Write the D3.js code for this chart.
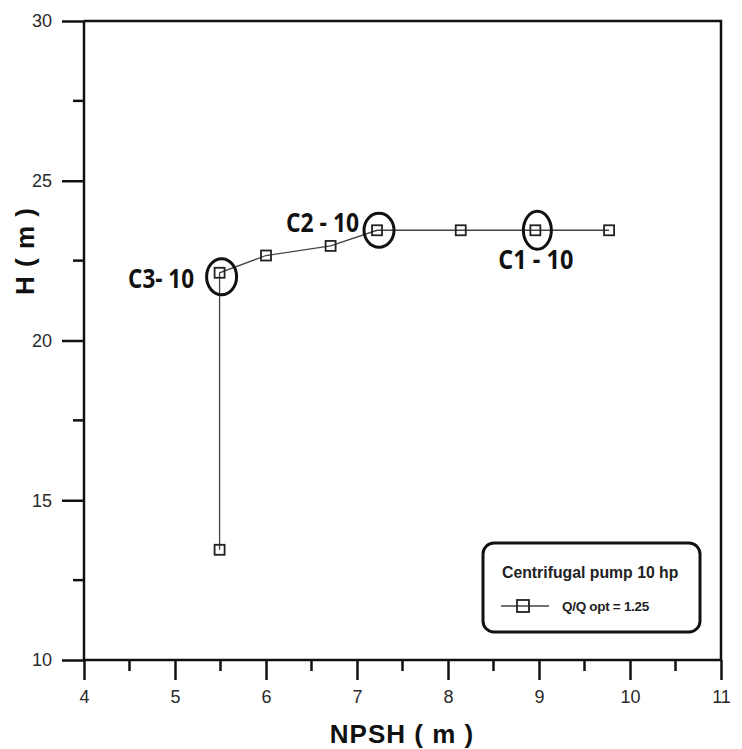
<!DOCTYPE html>
<html>
<head>
<meta charset="utf-8">
<script src="https://cdn.jsdelivr.net/npm/d3@7"></script>
<style>
  html, body { margin: 0; padding: 0; background: #fff; }
  svg { display: block; }
</style>
</head>
<body>
<svg id="chart" width="742" height="749"></svg>
<script>
// NPSH (m) vs head H (m) for the 10 hp centrifugal pump at Q/Qopt = 1.25
const npsh = [5.49, 5.49, 6.0, 6.71, 7.22, 8.14, 8.96, 9.77];
const head = [13.45, 22.12, 22.66, 22.96, 23.45, 23.45, 23.45, 23.45];

// Cavitation condition markers: label, index of the circled point
const markerLabels = ["C3- 10", "C2 - 10", "C1 - 10"];
const markerIndex = [1, 4, 6];

const xTicks = [4, 5, 6, 7, 8, 9, 10, 11];
const yTicks = [10, 15, 20, 25, 30];

const legendTitle = "Centrifugal pump 10 hp";
const seriesName = "Q/Q opt = 1.25";

const svg = d3.select("#chart");
const plotL = 84, plotR = 721, plotT = 21, plotB = 660;

const x = d3.scaleLinear().domain([4, 11]).range([plotL, plotR]);
const y = d3.scaleLinear().domain([10, 30]).range([plotB, plotT]);

const tickFont = "Liberation Sans, Arial, sans-serif";

// frame: top and right edges
svg.append("path")
  .attr("d", `M${plotL},${plotT}H${plotR}V${plotB}`)
  .attr("fill", "none").attr("stroke", "#111").attr("stroke-width", 2.5);

// bottom axis
const xAxis = svg.append("g").attr("transform", `translate(0,${plotB})`)
  .call(d3.axisBottom(x).tickValues(xTicks).tickFormat(d3.format("d"))
    .tickSize(20).tickSizeOuter(0).tickPadding(10));
// minor x ticks
svg.append("g").selectAll("line")
  .data(d3.range(4.5, 11, 1))
  .join("line")
  .attr("x1", d => x(d)).attr("x2", d => x(d))
  .attr("y1", plotB).attr("y2", plotB + 11)
  .attr("stroke", "#111").attr("stroke-width", 2.5);

// left axis
const yAxis = svg.append("g").attr("transform", `translate(${plotL},0)`)
  .call(d3.axisLeft(y).tickValues(yTicks).tickFormat(d3.format("d"))
    .tickSize(22).tickSizeOuter(0).tickPadding(10));
svg.append("g").selectAll("line")
  .data(d3.range(12.5, 30, 5))
  .join("line")
  .attr("x1", plotL).attr("x2", plotL - 11)
  .attr("y1", d => y(d)).attr("y2", d => y(d))
  .attr("stroke", "#111").attr("stroke-width", 2.5);

[xAxis, yAxis].forEach(g => {
  g.select(".domain").attr("stroke", "#111").attr("stroke-width", 2.5);
  g.selectAll(".tick line").attr("stroke", "#111").attr("stroke-width", 2.5);
  g.selectAll(".tick text")
    .attr("font-family", tickFont).attr("font-size", 18).attr("fill", "#2a2a2a");
});
xAxis.select(".domain").attr("d", `M${plotL},0H${plotR}`);
yAxis.select(".domain").attr("d", `M0,${plotB}V${plotT}`);

// axis titles
svg.append("text")
  .attr("x", 402).attr("y", 743)
  .attr("text-anchor", "middle")
  .attr("font-family", tickFont).attr("font-weight", "bold")
  .attr("font-size", 26).attr("letter-spacing", 1).attr("fill", "#111")
  .text("NPSH ( m )");

svg.append("text")
  .attr("transform", "translate(34,251) rotate(-90)")
  .attr("text-anchor", "middle")
  .attr("font-family", tickFont).attr("font-weight", "bold")
  .attr("font-size", 26).attr("letter-spacing", 1).attr("fill", "#111")
  .text("H ( m )");

// data line
const pts = npsh.map((v, i) => [v, head[i]]);
svg.append("path")
  .datum(pts)
  .attr("d", d3.line().x(d => x(d[0])).y(d => y(d[1])))
  .attr("fill", "none").attr("stroke", "#444").attr("stroke-width", 1.3);

// square markers
const ms = 10;
svg.append("g").selectAll("rect")
  .data(pts)
  .join("rect")
  .attr("x", d => x(d[0]) - ms / 2).attr("y", d => y(d[1]) - ms / 2)
  .attr("width", ms).attr("height", ms)
  .attr("fill", "none").attr("stroke", "#222").attr("stroke-width", 1.8);

// circled points and their labels (narrow bold lettering)
const ellR = [[15, 18], [15, 17], [14, 19]];
const labelPos = [
  { dx: -91.5, dy: 15, w: 66 },
  { dx: -91, dy: 1.5, w: 73 },
  { dx: -37, dy: 38.5, w: 75 }
];
const labelFont = "Open Sans, Noto Sans, sans-serif";
markerIndex.forEach((k, i) => {
  const cx = x(npsh[k]) + 2, cy = y(head[k]) + (i === 0 ? 4 : 0);
  svg.append("ellipse")
    .attr("cx", cx).attr("cy", cy)
    .attr("rx", ellR[i][0]).attr("ry", ellR[i][1])
    .attr("fill", "none").attr("stroke", "#111").attr("stroke-width", 3);
  svg.append("text")
    .attr("x", x(npsh[k]) + labelPos[i].dx)
    .attr("y", y(head[k]) + labelPos[i].dy)
    .attr("font-family", labelFont).attr("font-weight", "bold")
    .attr("font-size", 27).attr("fill", "#111")
    .attr("textLength", labelPos[i].w)
    .attr("lengthAdjust", "spacingAndGlyphs")
    .text(markerLabels[i]);
});

// legend box
const lg = svg.append("g");
lg.append("rect")
  .attr("x", 483).attr("y", 543).attr("width", 217).attr("height", 89)
  .attr("rx", 11).attr("ry", 11)
  .attr("fill", "#fff").attr("stroke", "#111").attr("stroke-width", 3);
lg.append("text")
  .attr("x", 502).attr("y", 578)
  .attr("font-family", tickFont).attr("font-weight", "bold")
  .attr("font-size", 15.8).attr("fill", "#222")
  .text(legendTitle);
lg.append("line")
  .attr("x1", 501).attr("x2", 549).attr("y1", 606).attr("y2", 606)
  .attr("stroke", "#444").attr("stroke-width", 1.3);
lg.append("rect")
  .attr("x", 517).attr("y", 600).attr("width", 12).attr("height", 12)
  .attr("fill", "none").attr("stroke", "#222").attr("stroke-width", 1.8);
lg.append("text")
  .attr("x", 562).attr("y", 611)
  .attr("font-family", tickFont).attr("font-weight", "bold")
  .attr("font-size", 13.5).attr("fill", "#222")
  .attr("letter-spacing", -0.3)
  .text(seriesName);
</script>
</body>
</html>
